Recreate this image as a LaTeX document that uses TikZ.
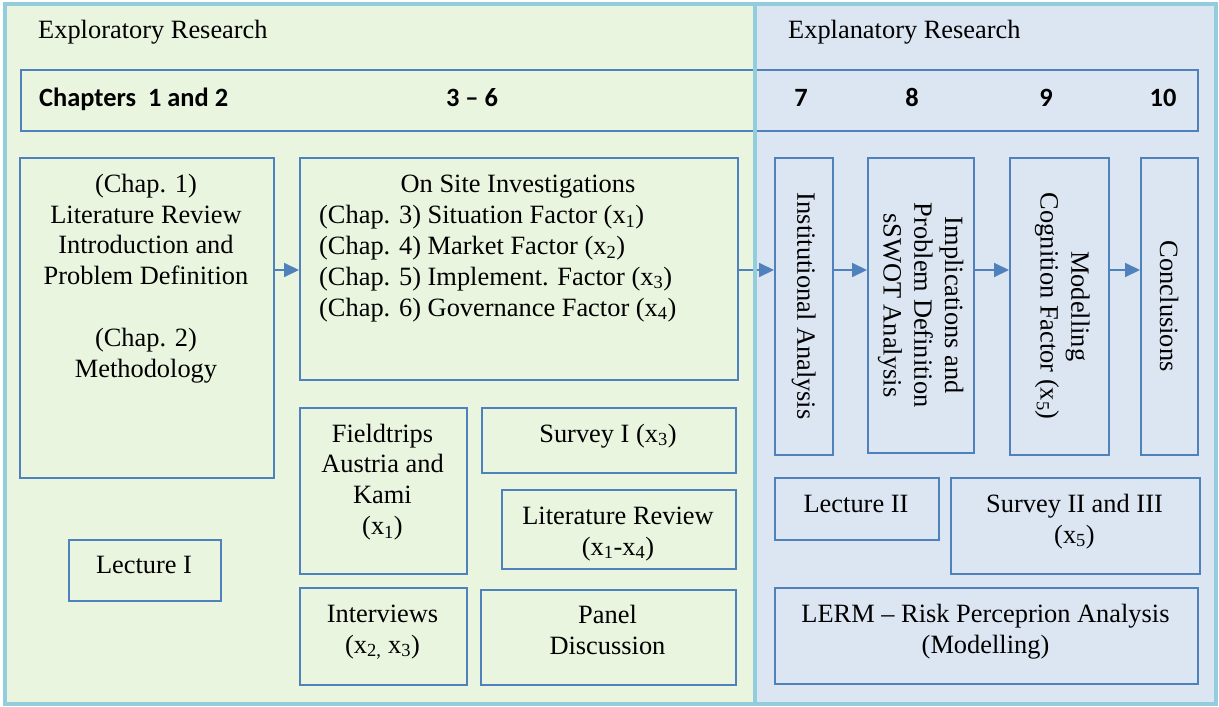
\documentclass[tikz,border=0pt]{standalone}
\usepackage{fontspec}
\setmainfont{Liberation Serif}
\newfontfamily\carlito{Carlito}
\usetikzlibrary{arrows.meta}
\definecolor{panelgreen}{HTML}{EAF5DF}
\definecolor{panelblue}{HTML}{DCE6F2}
\definecolor{panelline}{HTML}{93CDDD}
\definecolor{boxline}{HTML}{4F81BD}
\tikzset{
  txt/.style={inner sep=0pt, font=\fontsize{26.4}{30.8}\selectfont},
  box/.style={draw=boxline, line width=1.5pt, inner sep=0pt, anchor=north west},
  flow/.style={draw=boxline, line width=2pt, -{Triangle[length=15pt,width=14pt]}},
  head/.style={inner sep=0pt, font=\fontsize{26.4}{30}\selectfont\carlito\bfseries},
  panel/.style={draw=panelline, line width=4.5pt},
}
\newcommand{\sub}[1]{\textsubscript{#1}}
\begin{document}
\begin{tikzpicture}[x=1pt,y=1pt]
\useasboundingbox (0,0) rectangle (1219,-707);
% panel fills
\fill[panelgreen] (5,-4) rectangle (755,-704);
\fill[panelblue] (755,-4) rectangle (1216,-704);
% headings
\node[txt, anchor=base west] (hexpl) at (38,-38) {Exploratory Research};
\node[txt, anchor=base west] (hexpn) at (788,-38) {Explanatory Research};
% chapters bar
\node[box, minimum width=1177pt, minimum height=61pt] (bar) at (20,-69) {};
\node[head, anchor=base west] (c12) at (39,-106) {Chapters\ \ 1 and 2};
\node[head, anchor=base] (c36) at (472,-106) {3 – 6};
\node[head, anchor=base] (c7) at (801,-106) {7};
\node[head, anchor=base] (c8) at (912,-106) {8};
\node[head, anchor=base] (c9) at (1046,-106) {9};
\node[head, anchor=base] (c10) at (1163,-106) {10};
% main boxes
\node[box, minimum width=254pt, minimum height=320pt] (chap) at (19,-157) {};
\node[txt, anchor=base, align=center] (chaptxt) at (146,-377)
  {(Chap. 1)\\Literature Review\\Introduction and\\Problem Definition\\[30.8pt](Chap. 2)\\Methodology};
\node[box, minimum width=438pt, minimum height=222pt] (onsite) at (299,-157) {};
\node[txt, anchor=base] (ostitle) at (518,-192) {On Site Investigations};
\node[txt, anchor=base west, align=left] (oslines) at (319,-316)
  {(Chap. 3) Situation Factor (x\sub{1})\\(Chap. 4) Market Factor (x\sub{2})\\(Chap. 5) Implement. Factor (x\sub{3})\\(Chap. 6) Governance Factor (x\sub{4})};
\node[box, minimum width=58pt, minimum height=297pt] (inst) at (774,-157) {};
\node[txt, rotate=-90] (insttxt) at (inst.center) {Institutional Analysis};
\node[box, minimum width=106pt, minimum height=295pt] (impl) at (867,-157) {};
\node[txt, rotate=-90, align=center] (impltxt) at (impl.center) {Implications and\\Problem Definition\\sSWOT Analysis};
\node[box, minimum width=99pt, minimum height=297pt] (model) at (1009,-157) {};
\node[txt, rotate=-90, align=center] (modeltxt) at ([xshift=3pt]model.center) {Modelling\\Cognition Factor (x\sub{5})};
\node[box, minimum width=57pt, minimum height=297pt] (concl) at (1140,-157) {};
\node[txt, rotate=-90] (concltxt) at (concl.center) {Conclusions};
% lower left boxes
\node[box, minimum width=167pt, minimum height=166pt] (field) at (299,-407) {};
\node[txt, anchor=base, align=center] (fieldtxt) at (382.5,-534.5) {Fieldtrips\\Austria and\\Kami\\(x\sub{1})};
\node[box, minimum width=254pt, minimum height=65pt] (surv1) at (481,-407) {};
\node[txt, anchor=base] (surv1txt) at (608,-442) {Survey I (x\sub{3})};
\node[box, minimum width=234pt, minimum height=79pt] (litrev) at (501,-489) {};
\node[txt, anchor=base, align=center] (litrevtxt) at (618,-555) {Literature Review\\(x\sub{1}-x\sub{4})};
\node[box, minimum width=167pt, minimum height=97pt] (interv) at (299,-587) {};
\node[txt, anchor=base, align=center] (intervtxt) at (382.5,-653) {Interviews\\(x\sub{2,} x\sub{3})};
\node[box, minimum width=255pt, minimum height=95pt] (paneld) at (480,-589) {};
\node[txt, anchor=base, align=center] (paneltxt) at (607.5,-654) {Panel\\Discussion};
\node[box, minimum width=152pt, minimum height=61pt] (lect1) at (68,-539) {};
\node[txt, anchor=base] (lect1txt) at (144,-573) {Lecture I};
% lower right boxes
\node[box, minimum width=164pt, minimum height=62pt] (lect2) at (774,-477) {};
\node[txt, anchor=base] (lect2txt) at (856,-512) {Lecture II};
\node[box, minimum width=249pt, minimum height=96pt] (surv2) at (950,-477) {};
\node[txt, anchor=base, align=center] (surv2txt) at (1074.5,-543) {Survey II and III\\(x\sub{5})};
\node[box, minimum width=423pt, minimum height=96pt] (lerm) at (774,-587) {};
\node[txt, anchor=base, align=center] (lermtxt) at (985.5,-653) {LERM -- Risk Perceprion Analysis\\(Modelling)};
% arrows
\coordinate (ay) at (0,-270);
\draw[flow] (chap.east |- ay) -- (onsite.west |- ay);
\draw[flow] (onsite.east |- ay) -- (inst.west |- ay);
\draw[flow] (inst.east |- ay) -- (impl.west |- ay);
\draw[flow] (impl.east |- ay) -- (model.west |- ay);
\draw[flow] (model.east |- ay) -- (concl.west |- ay);
% panel borders
\draw[panel] (5,-4) rectangle (755,-704);
\draw[panel] (755,-4) rectangle (1216,-704);
\end{tikzpicture}
\end{document}
